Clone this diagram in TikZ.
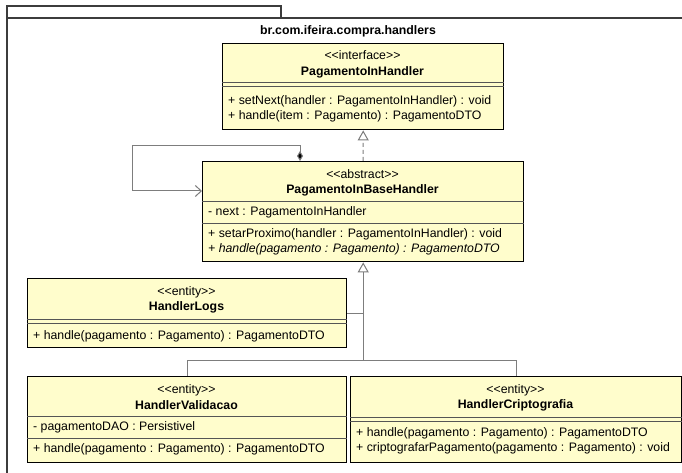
\documentclass[tikz,border=0pt]{standalone}
\usepackage{fontspec}
\setmainfont{Liberation Sans}
\usetikzlibrary{arrows.meta,calc}
\definecolor{umlfill}{RGB}{255,253,204}
\definecolor{conn}{RGB}{125,125,125}
\definecolor{sepc}{RGB}{85,85,85}
\definecolor{framec}{RGB}{60,60,60}
\newcommand\umlst[1]{<\kern0pt<#1>\kern0pt>}
\begin{document}
\begin{tikzpicture}[x=1bp,y=-1bp,
  font=\fontsize{12.3bp}{15bp}\selectfont,
  classbox/.style={draw=black, line width=1.4bp, fill=umlfill, inner sep=0pt, anchor=north west},
  txt/.style={inner sep=0pt},
  mem/.style={inner sep=0pt, anchor=west},
  boldname/.style={inner sep=0pt, font=\fontsize{12.3bp}{15bp}\selectfont\bfseries},
  sepline/.style={draw=sepc, line width=0.8bp},
  frameline/.style={draw=framec, line width=1.3bp},
  conline/.style={draw=conn, line width=1bp},
  gen/.style={conline, -{Triangle[open, length=10bp, width=11bp, fill=white]}},
  real/.style={gen, dash pattern=on 4bp off 3bp},
]
\useasboundingbox (0,0) rectangle (682,473);
\fill[white] (0,0) rectangle (682,473);

% package frame
\draw[frameline] (7,18) rectangle (281,6);
\draw[frameline] (7,480) -- (7,18) -- (690,18);
\node[boldname] (pkg) at (348,31) {br.com.ifeira.compra.handlers};

% interface
\node[classbox, minimum width=281bp, minimum height=86bp] (iface) at (222,43) {};
\node[txt] (ifaceS) at (362.5,55) {\umlst{interface}};
\node[boldname] (ifaceN) at (362.5,72) {PagamentoInHandler};
\draw[sepline] ($(iface.north west)+(0,39)$) -- ($(iface.north east)+(0,39)$);
\draw[sepline] ($(iface.north west)+(0,43)$) -- ($(iface.north east)+(0,43)$);
\node[mem] (ifaceM1) at (228,101) {+ setNext(handler : PagamentoInHandler) : void};
\node[mem] (ifaceM2) at (228,116) {+ handle(item : Pagamento) : PagamentoDTO};

% abstract
\node[classbox, minimum width=321bp, minimum height=100bp] (abs) at (202,161) {};
\node[txt] (absS) at (362.5,174) {\umlst{abstract}};
\node[boldname] (absN) at (362.5,190) {PagamentoInBaseHandler};
\draw[sepline] ($(abs.north west)+(0,40)$) -- ($(abs.north east)+(0,40)$);
\node[mem] (absA) at (208,212) {- next : PagamentoInHandler};
\draw[sepline] ($(abs.north west)+(0,62)$) -- ($(abs.north east)+(0,62)$);
\node[mem] (absM1) at (208,234) {+ setarProximo(handler : PagamentoInHandler) : void};
\node[mem] (absM2) at (208,249) {\itshape + handle(pagamento : Pagamento) : PagamentoDTO};

% HandlerLogs
\node[classbox, minimum width=319bp, minimum height=69bp] (logs) at (27,278) {};
\node[txt] (logsS) at (186.5,292) {\umlst{entity}};
\node[boldname] (logsN) at (186.5,307) {HandlerLogs};
\draw[sepline] ($(logs.north west)+(0,41)$) -- ($(logs.north east)+(0,41)$);
\draw[sepline] ($(logs.north west)+(0,45)$) -- ($(logs.north east)+(0,45)$);
\node[mem] (logsM) at (33,336) {+ handle(pagamento : Pagamento) : PagamentoDTO};

% HandlerValidacao
\node[classbox, minimum width=319bp, minimum height=86bp] (val) at (27,376) {};
\node[txt] (valS) at (186.5,390) {\umlst{entity}};
\node[boldname] (valN) at (186.5,405) {HandlerValidacao};
\draw[sepline] ($(val.north west)+(0,40)$) -- ($(val.north east)+(0,40)$);
\node[mem] (valA) at (33,427) {- pagamentoDAO : Persistivel};
\draw[sepline] ($(val.north west)+(0,62)$) -- ($(val.north east)+(0,62)$);
\node[mem] (valM) at (33,449) {+ handle(pagamento : Pagamento) : PagamentoDTO};

% HandlerCriptografia
\node[classbox, minimum width=331bp, minimum height=86bp] (cri) at (350,376) {};
\node[txt] (criS) at (515.5,390) {\umlst{entity}};
\node[boldname] (criN) at (515.5,405) {HandlerCriptografia};
\draw[sepline] ($(cri.north west)+(0,41)$) -- ($(cri.north east)+(0,41)$);
\draw[sepline] ($(cri.north west)+(0,45)$) -- ($(cri.north east)+(0,45)$);
\node[mem] (criM1) at (356,433) {+ handle(pagamento : Pagamento) : PagamentoDTO};
\node[mem] (criM2) at (356,448) {+ criptografarPagamento(pagamento : Pagamento) : void};

% realization
\draw[real] (abs.north) -- (iface.south);

% self association
\coordinate (sa1) at ($(abs.north west)+(98,-15)$);
\coordinate (sa2) at (132,146);
\coordinate (sa3) at (132,191);
\draw[conline, {Diamond[length=10bp, width=6bp, fill=black]}-{Straight Barb[length=6bp, width=11bp]}]
  ($(abs.north west)+(98,0)$) -- (sa1) -- (sa2) -- (sa3) -- (sa3 -| abs.west);

% generalization
\coordinate (gj) at (abs.south |- 0,360);
\draw[gen] (val.north) |- (gj) -- (abs.south);
\draw[conline] (cri.north) |- (gj);
\draw[conline] (logs.east) -- (logs.east -| gj);
\end{tikzpicture}
\end{document}
